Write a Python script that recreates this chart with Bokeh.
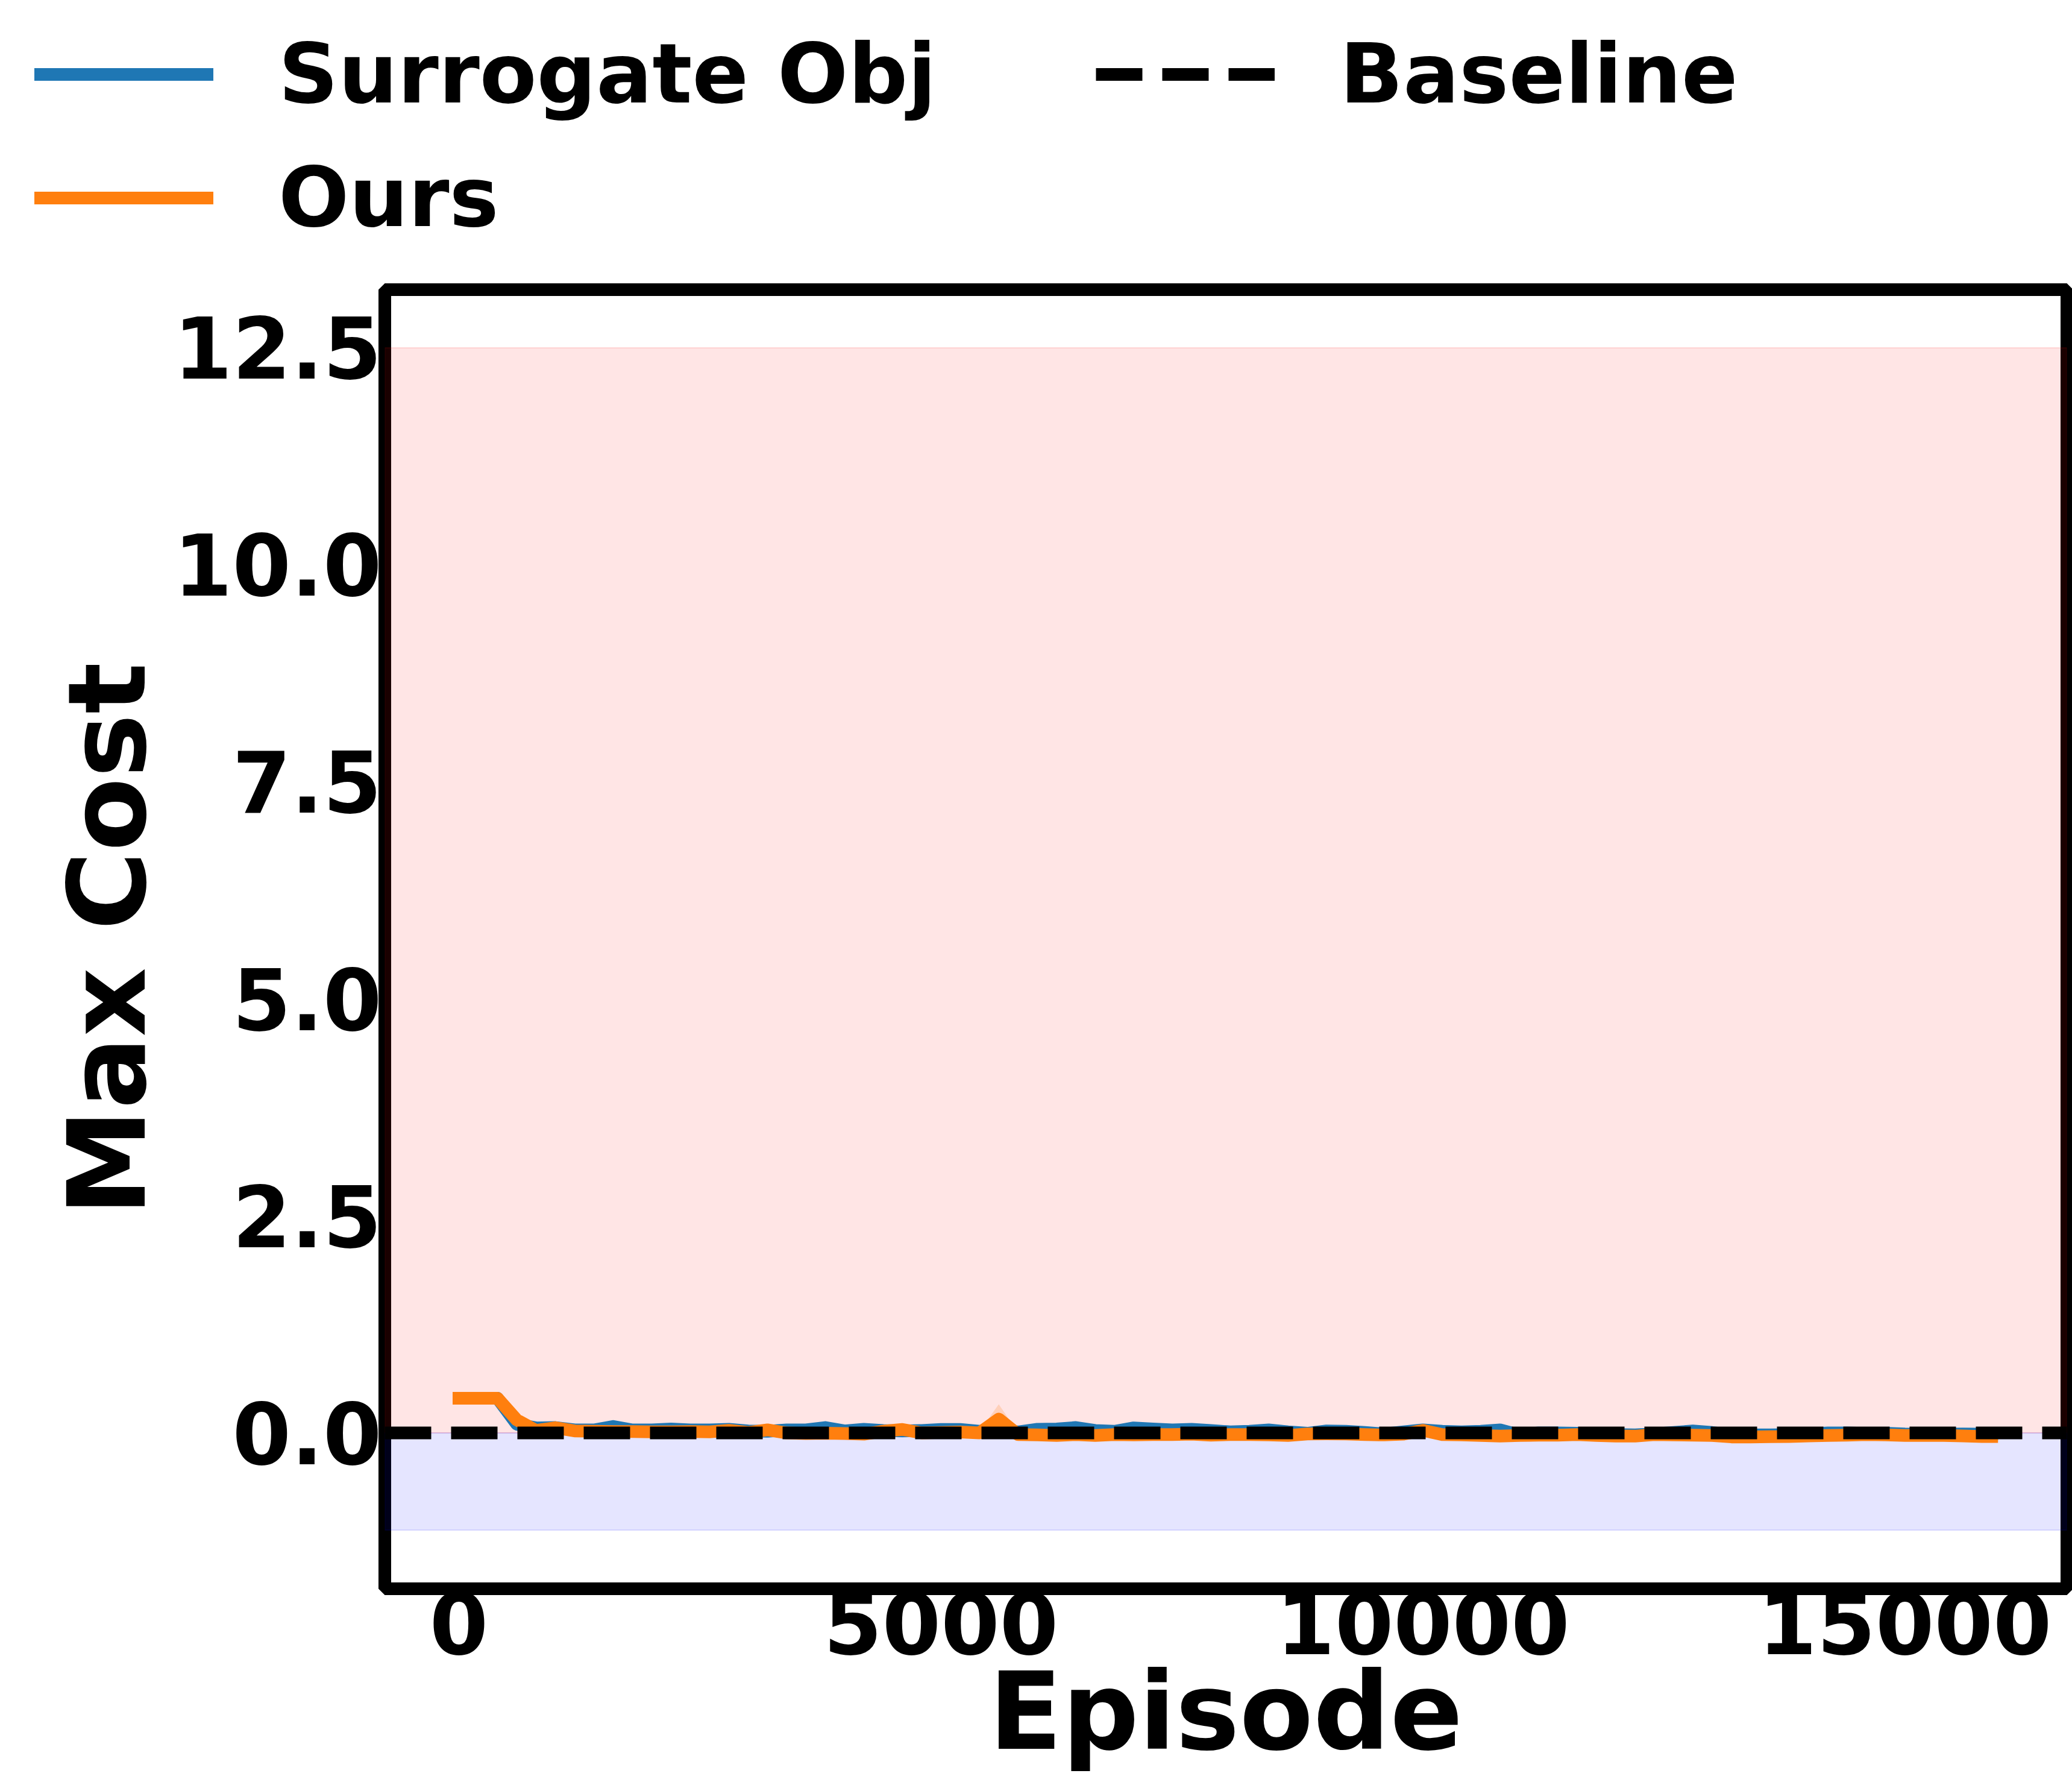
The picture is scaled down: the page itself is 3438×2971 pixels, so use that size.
from bokeh.plotting import figure
from bokeh.layouts import column
from bokeh.models import (Legend, LegendItem, BoxAnnotation, FixedTicker,
                          PrintfTickFormatter, Range1d, ColumnDataSource)
from bokeh.embed import file_html
from bokeh.resources import INLINE

# ---------------- data ----------------
episodes = list(range(0, 16000, 200)) + [15900]

surrogate_obj = [
    0.40, 0.40, 0.40, 0.10, 0.058, 0.062, 0.035, 0.035, 0.074, 0.035,
    0.035, 0.046, 0.035, 0.035, 0.042, 0.023, 0.019, 0.035, 0.035, 0.062,
    0.023, 0.042, 0.028, 0.023, 0.028, 0.040, 0.040, 0.019, 0.030, 0.012,
    0.042, 0.046, 0.062, 0.028, 0.019, 0.058, 0.046, 0.035, 0.042, 0.028,
    0.012, 0.019, 0.035, 0.012, -0.004, 0.023, 0.019, 0.005, -0.012, 0.012,
    0.035, 0.019, 0.012, 0.019, 0.035, -0.023, 0.000, 0.000, -0.004, -0.012,
    -0.019, -0.023, -0.012, 0.005, 0.023, 0.005, -0.023, -0.023, -0.023, -0.019,
    -0.012, 0.000, 0.000, -0.007, -0.004, -0.012, -0.014, -0.014, -0.012, -0.014,
    -0.014,
]

ours = [
    0.40, 0.40, 0.40, 0.15, 0.028, 0.060, 0.023, 0.020, 0.016, 0.016,
    0.012, 0.012, 0.016, 0.012, 0.030, 0.005, 0.035, 0.000, -0.007, -0.004,
    -0.007, -0.014, 0.020, 0.040, 0.000, 0.005, 0.010, 0.000, 0.160, -0.019,
    -0.023, -0.030, -0.019, -0.030, -0.019, -0.023, -0.019, -0.019, -0.014, -0.026,
    -0.019, -0.019, -0.023, -0.030, -0.012, -0.010, -0.012, -0.019, -0.023, -0.014,
    0.030, -0.019, -0.023, -0.030, -0.037, -0.030, -0.026, -0.026, -0.019, -0.030,
    -0.037, -0.037, -0.019, -0.023, -0.026, -0.030, -0.046, -0.046, -0.044, -0.042,
    -0.035, -0.030, -0.026, -0.019, -0.023, -0.030, -0.030, -0.030, -0.035, -0.042,
    -0.042,
]

ours_std = [
    0.0, 0.0, 0.0, 0.02, 0.01, 0.01, 0.01, 0.01, 0.01, 0.01,
    0.01, 0.01, 0.01, 0.01, 0.01, 0.01, 0.01, 0.01, 0.01, 0.01,
    0.01, 0.01, 0.01, 0.01, 0.01, 0.01, 0.01, 0.02, 0.17, 0.02,
    0.01, 0.01, 0.01, 0.01, 0.01, 0.01, 0.01, 0.01, 0.01, 0.01,
    0.01, 0.01, 0.01, 0.01, 0.01, 0.01, 0.01, 0.01, 0.01, 0.01,
    0.01, 0.01, 0.01, 0.01, 0.01, 0.01, 0.01, 0.01, 0.01, 0.01,
    0.01, 0.01, 0.01, 0.01, 0.01, 0.01, 0.01, 0.01, 0.01, 0.01,
    0.01, 0.01, 0.01, 0.01, 0.01, 0.01, 0.01, 0.01, 0.01, 0.01,
    0.01,
]

baseline_value = 0.0
unsafe_band = [0.0, 12.5]      # red region (bottom, top)
safe_band = [-1.12, 0.0]       # blue region (bottom, top)

x_ticks = [0, 5000, 10000, 15000]
y_ticks = [0.0, 2.5, 5.0, 7.5, 10.0, 12.5]

x_limits = [-769, 16680]
y_limits = [-1.795, 13.17]

series_labels = ["Surrogate Obj", "Ours", "Baseline"]
series_colors = ["#1f77b4", "#ff7f0e", "black"]

FONT = "DejaVu Sans"
W = 3438
LEGEND_H = 440
MAIN_H = 2971 - LEGEND_H

ours_upper = [m + s for m, s in zip(ours, ours_std)]
ours_lower = [m - s for m, s in zip(ours, ours_std)]
src = ColumnDataSource(dict(x=episodes, sur=surrogate_obj, ours=ours,
                            up=ours_upper, lo=ours_lower))


def draw_series(fig):
    r1 = fig.line("x", "sur", source=src, line_color=series_colors[0], line_width=21,
                  line_cap="square", line_join="round")
    fig.varea(x="x", y1="lo", y2="up", source=src, fill_color=series_colors[1],
              fill_alpha=0.2)
    r2 = fig.line("x", "ours", source=src, line_color=series_colors[1], line_width=21,
                  line_cap="square", line_join="round")
    r3 = fig.line(x=x_limits, y=[baseline_value, baseline_value],
                  line_color=series_colors[2], line_width=21, line_dash="77 33",
                  line_cap="butt")
    return r1, r2, r3


# ---------------- main plot ----------------
p = figure(width=W, height=MAIN_H, output_backend="svg", toolbar_location=None,
           title=None,
           x_range=Range1d(*x_limits), y_range=Range1d(*y_limits),
           min_border_left=638, min_border_right=9,
           min_border_top=40, min_border_bottom=336)
p.frame_align = False

p.background_fill_color = "white"
p.border_fill_color = "white"
p.outline_line_color = "black"
p.outline_line_width = 21
p.grid.visible = False

p.add_layout(BoxAnnotation(bottom=unsafe_band[0], top=unsafe_band[1],
                           fill_color="red", fill_alpha=0.1,
                           line_color="red", line_alpha=0.12, line_width=2,
                           level="underlay"))
p.add_layout(BoxAnnotation(bottom=safe_band[0], top=safe_band[1],
                           fill_color="blue", fill_alpha=0.1,
                           line_color="blue", line_alpha=0.12, line_width=2,
                           level="underlay"))

draw_series(p)

for ax in (p.xaxis[0], p.yaxis[0]):
    ax.axis_line_color = None
    ax.major_tick_line_color = None
    ax.minor_tick_line_color = None
    ax.major_tick_out = 0
    ax.major_tick_in = 0
    ax.major_label_text_font = FONT
    ax.major_label_text_font_style = "bold"
    ax.major_label_text_font_size = "140px"
    ax.major_label_text_color = "black"
    ax.axis_label_text_font = FONT
    ax.axis_label_text_font_style = "bold"
    ax.axis_label_text_font_size = "178px"
    ax.axis_label_text_color = "black"

p.xaxis.ticker = FixedTicker(ticks=x_ticks)
p.xaxis.formatter = PrintfTickFormatter(format="%d")
p.yaxis.ticker = FixedTicker(ticks=y_ticks)
p.yaxis.formatter = PrintfTickFormatter(format="%.1f")
p.xaxis.axis_label = "Episode"
p.yaxis.axis_label = "Max Cost"
p.xaxis.major_label_standoff = 5
p.xaxis.axis_label_standoff = -11
p.yaxis.major_label_standoff = 5
p.yaxis.axis_label_standoff = 3

# ---------------- legend strip (above the axes) ----------------
lf = figure(width=W, height=LEGEND_H, output_backend="svg", toolbar_location=None,
            title=None, x_axis_type=None, y_axis_type=None,
            x_range=Range1d(-2, -1), y_range=Range1d(-2, -1),
            min_border_left=57, min_border_right=0,
            min_border_top=42, min_border_bottom=0)
lf.frame_align = False
lf.outline_line_color = None
lf.grid.visible = False
lf.background_fill_color = "white"
lf.border_fill_color = "white"
l1, l2, l3 = draw_series(lf)

legend = Legend(items=[LegendItem(label=series_labels[0], renderers=[l1]),
                       LegendItem(label=series_labels[1], renderers=[l2]),
                       LegendItem(label=series_labels[2], renderers=[l3])],
                orientation="vertical", nrows=2, location="top_left",
                glyph_width=297, glyph_height=40, label_standoff=108,
                label_width=1312, spacing=44, padding=0, margin=0,
                label_text_font=FONT, label_text_font_style="bold",
                label_text_font_size="138px", label_text_color="black",
                border_line_color=None, background_fill_alpha=0.0)
lf.add_layout(legend)

layout = column(lf, p, spacing=0)
open("out.html", "w").write(file_html(layout, INLINE))
